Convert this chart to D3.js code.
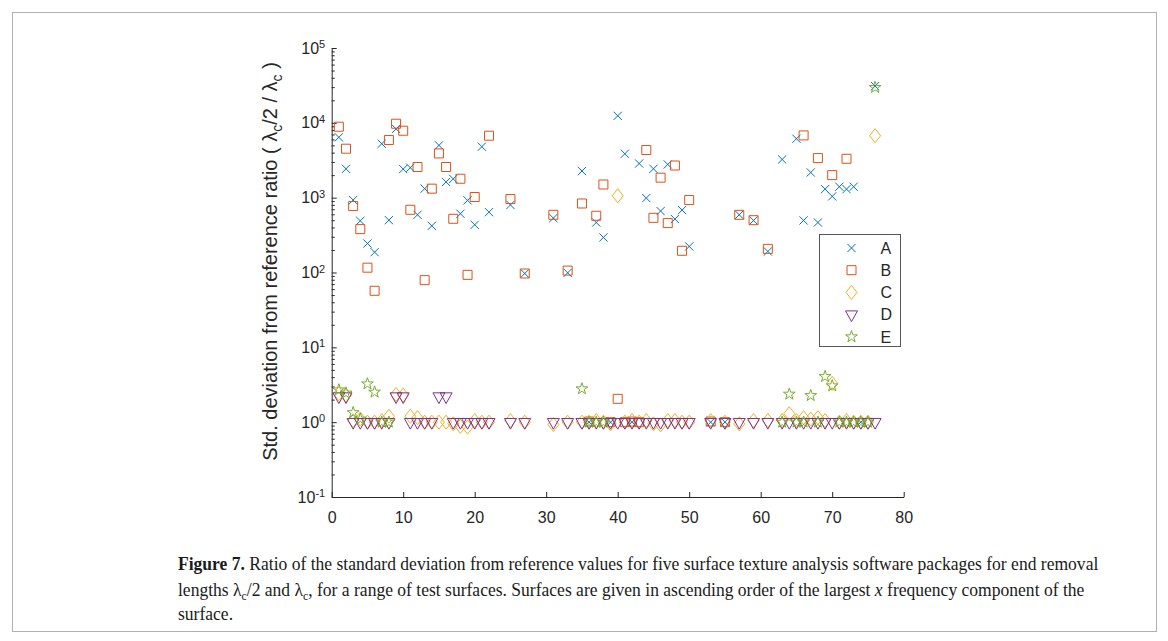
<!DOCTYPE html>
<html>
<head>
<meta charset="utf-8">
<script src="https://cdn.jsdelivr.net/npm/d3@7"></script>
<style>
  body { margin: 0; background: #fff; }
  svg { display: block; }
</style>
</head>
<body>
<svg id="fig" width="1168" height="641"></svg>
<script>
// Surface index (ascending order of largest x frequency component)
const surfaces = d3.range(1, 77);

// Ratio of std. deviation (lambda_c/2 vs lambda_c) per package; null = no result
const seriesA = [
  6400, 2430, 930, 490, 244, 187, 5250, 500, 8300, 2410,
  2510, 590, 1320, 420, 5000, 1620, 1780, 610, 920, 434,
  4800, 640, null, null, 800, null, 97, null, null, null,
  533, null, 99, null, 2270, 1.0, 466, 294, 1.0, 12400,
  3860, 1.0, 2860, 988, 2430, 662, 2780, 518, 682, 223,
  null, null, 1.0, null, 1.0, null, 590, null, 496, null,
  191, null, 3240, null, 6130, 496, 2170, 466, 1300, 1040,
  1400, 1300, 1400, 1.0, null, 31000
];
const seriesB = [
  8870, 4510, 772, 380, 116, 57, null, 5890, 9730, 7840,
  689, 2570, 79, 1320, 3900, 2570, 522, 1790, 93, 1020,
  null, 6730, null, null, 958, null, 97, null, null, null,
  590, null, 106, null, 836, 1.02, 573, 1500, 1.0, 2.05,
  1.0, 1.02, 1.0, 4330, 538, 1850, 457, 2690, 195, 929,
  null, null, 1.02, null, 1.0, null, 590, null, 500, null,
  207, null, null, null, null, 6790, null, 3380, null, 2000,
  null, 3310, null, null, null, null
];
const seriesC = [
  2.4, 2.3, 1.05, 1.1, 1.0, 1.0, 1.05, 1.2, 2.35, 2.3,
  1.2, 1.15, 1.0, 1.0, 1.0, 1.0, 0.95, 0.88, 0.86, 1.05,
  1.0, 1.0, null, null, 1.05, null, 1.0, null, null, null,
  0.93, null, 1.0, null, 1.0, 1.0, 1.05, 1.0, 0.95, 1060,
  1.0, 1.05, 1.0, 1.05, 0.95, 0.92, 1.05, 1.05, 1.0, 1.0,
  null, null, 1.05, null, 1.0, null, 0.95, null, 1.05, null,
  1.05, null, 1.05, 1.3, 1.05, 1.15, 1.1, 1.15, 1.05, 3.3,
  1.0, 1.05, 1.0, 1.0, 1.0, 6720
];
const seriesD = [
  2.2, 2.2, 1.0, 1.0, 1.0, 1.0, 1.0, 1.0, 2.2, 2.2,
  1.0, 1.0, 1.0, 1.0, 2.2, 2.2, 1.0, 1.0, 1.0, 1.0,
  1.0, 1.0, null, null, 1.0, null, 1.0, null, null, null,
  1.0, null, 1.0, null, 1.0, 1.0, 1.0, 1.0, 1.0, 1.0,
  1.0, 1.0, 1.0, 1.0, 1.0, 1.0, 1.0, 1.0, 1.0, 1.0,
  null, null, 1.0, null, 1.0, null, 1.0, null, 1.0, null,
  1.0, null, 1.0, 1.0, 1.0, 1.0, 1.0, 1.0, 1.0, 1.0,
  1.0, 1.0, 1.0, 1.0, 1.0, 1.0
];
const seriesE = [
  2.7, 2.45, 1.34, 1.1, 3.25, 2.52, 1.0, 1.0, null, null,
  null, null, null, null, null, null, null, null, null, null,
  null, null, null, null, null, null, null, null, null, null,
  null, null, null, null, 2.79, 1.0, 1.0, 1.0, null, null,
  null, null, null, null, null, null, null, null, null, null,
  null, null, null, null, null, null, null, null, null, null,
  null, null, 1.0, 2.37, 1.0, 1.0, 2.27, 1.0, 4.07, 3.06,
  1.0, 1.0, 1.0, 1.0, 1.0, 29700
];

const seriesNames = ["A", "B", "C", "D", "E"];
const seriesColors = ["#0072BD", "#D95319", "#EDB120", "#7E2F8E", "#77AC30"];
const seriesMarkers = ["cross", "square", "diamond", "triangleDown", "pentagram"];
const xTicks = [0, 10, 20, 30, 40, 50, 60, 70, 80];
const yTickExponents = [-1, 0, 1, 2, 3, 4, 5];

const svg = d3.select("#fig");
const axisColor = "#262626";
const sansFont = "'Liberation Sans', Arial, Helvetica, sans-serif";
const serifFont = "'Liberation Serif', 'Times New Roman', serif";

// Figure frame
svg.append("rect")
  .attr("x", 12.5).attr("y", 12.5)
  .attr("width", 1144).attr("height", 619)
  .attr("fill", "none").attr("stroke", "#b0b0b0").attr("stroke-width", 1);

// Scales
const x = d3.scaleLinear().domain([0, 80]).range([331.7, 903.7]);
const y = d3.scaleLog().domain([0.1, 1e5]).range([497, 48]);

// Marker shapes centred on the data point
function markerPath(kind) {
  switch (kind) {
    case "cross": {
      const h = 4.1;
      return `M${-h},${-h}L${h},${h}M${-h},${h}L${h},${-h}`;
    }
    case "square": {
      const h = 4.5;
      return `M${-h},${-h}H${h}V${h}H${-h}Z`;
    }
    case "diamond":
      return "M0,-7L5.5,0L0,7L-5.5,0Z";
    case "triangleDown":
      return "M-6,-3.7L6,-3.7L0,7Z";
    case "pentagram": {
      const R = 6.2, r = 2.4, pts = [];
      for (let k = 0; k < 10; k++) {
        const a = -Math.PI / 2 + k * Math.PI / 5;
        const rad = k % 2 === 0 ? R : r;
        pts.push([rad * Math.cos(a), rad * Math.sin(a)]);
      }
      return "M" + pts.map(p => p[0].toFixed(2) + "," + p[1].toFixed(2)).join("L") + "Z";
    }
  }
}

// Axes
const xAxis = d3.axisBottom(x).tickValues(xTicks).tickSizeInner(-5).tickSizeOuter(0).tickPadding(14.5);
const gx = svg.append("g").attr("transform", `translate(0,${y(0.1)})`).call(xAxis);
gx.select(".domain").attr("stroke", axisColor);
gx.selectAll(".tick line").attr("stroke", axisColor);
gx.selectAll(".tick text").attr("fill", axisColor)
  .style("font-family", sansFont).style("font-size", "16px");

const yAxis = d3.axisLeft(y)
  .tickValues(yTickExponents.map(e => Math.pow(10, e)))
  .tickSizeInner(-5).tickSizeOuter(0).tickPadding(6.5)
  .tickFormat(() => "");
const gy = svg.append("g").attr("transform", `translate(${x(0)},0)`).call(yAxis);
gy.select(".domain").attr("stroke", axisColor);
gy.selectAll(".tick line").attr("stroke", axisColor);
gy.selectAll(".tick text")
  .attr("fill", axisColor)
  .style("font-family", sansFont).style("font-size", "16px")
  .each(function(d) {
    const t = d3.select(this);
    const e = Math.round(Math.log10(d));
    t.append("tspan").text("10");
    t.append("tspan").attr("dy", "-0.5em").style("font-size", "11px").text(String(e));
  });

// Minor log ticks
const minorVals = [];
for (let e = -1; e < 5; e++) for (let m = 2; m <= 9; m++) minorVals.push(m * Math.pow(10, e));
const gyMinor = svg.append("g").attr("transform", `translate(${x(0)},0)`)
  .call(d3.axisLeft(y).tickValues(minorVals).tickSize(-3).tickFormat(() => ""));
gyMinor.select(".domain").remove();
gyMinor.selectAll(".tick line").attr("stroke", axisColor);

// Y-axis label
const yLab = svg.append("text")
  .attr("transform", "translate(277,261.5) rotate(-90)")
  .attr("text-anchor", "middle")
  .attr("fill", axisColor)
  .style("font-family", sansFont).style("font-size", "20px");
yLab.append("tspan").text("Std. deviation from reference ratio ( \u03BB");
yLab.append("tspan").attr("dy", "5").style("font-size", "14px").text("c");
yLab.append("tspan").attr("dy", "-5").text("/2 / \u03BB");
yLab.append("tspan").attr("dy", "5").style("font-size", "14px").text("c");
yLab.append("tspan").attr("dy", "-5").text(" )");

// Data markers, drawn in series order
const allSeries = [seriesA, seriesB, seriesC, seriesD, seriesE];
const plot = svg.append("g");
allSeries.forEach((vals, si) => {
  const pts = surfaces.map((s, i) => ({ s, v: vals[i] })).filter(d => d.v != null);
  plot.append("g")
    .selectAll("path")
    .data(pts)
    .join("path")
    .attr("transform", d => `translate(${x(d.s)},${y(d.v)})`)
    .attr("d", markerPath(seriesMarkers[si]))
    .attr("fill", "none")
    .attr("stroke", seriesColors[si])
    .attr("stroke-width", 1);
});

// Legend
const legend = svg.append("g");
legend.append("rect")
  .attr("x", 819.5).attr("y", 234.5).attr("width", 81).attr("height", 112)
  .attr("fill", "#fff").attr("stroke", "#555").attr("stroke-width", 1);
seriesNames.forEach((name, i) => {
  const cy = 248 + i * 22.2;
  legend.append("path")
    .attr("transform", `translate(851.5,${cy})`)
    .attr("d", markerPath(seriesMarkers[i]))
    .attr("fill", "none").attr("stroke", seriesColors[i]).attr("stroke-width", 1);
  legend.append("text")
    .attr("x", 880.5).attr("y", cy + 5.8)
    .attr("fill", axisColor)
    .style("font-family", sansFont).style("font-size", "16px")
    .text(name);
});

// Caption
const capSize = 18;
function captionLine(yBase, target, build) {
  const t = svg.append("text")
    .attr("x", 0).attr("y", 0)
    .attr("fill", "#1a1a1a")
    .style("font-family", serifFont).style("font-size", capSize + "px");
  build(t);
  const w = t.node().getComputedTextLength();
  const sx = target / w;
  t.attr("transform", `translate(178,${yBase}) scale(${sx},1)`);
  return sx;
}
const s1 = captionLine(570, 921, t => {
  t.append("tspan").style("font-weight", "bold").text("Figure 7.");
  t.append("tspan").text(" Ratio of the standard deviation from reference values for five surface texture analysis software packages for end removal");
});
captionLine(595.5, 907, t => {
  t.append("tspan").text("lengths \u03BB");
  t.append("tspan").attr("dy", "4").style("font-size", "12px").text("c");
  t.append("tspan").attr("dy", "-4").text("/2 and \u03BB");
  t.append("tspan").attr("dy", "4").style("font-size", "12px").text("c");
  t.append("tspan").attr("dy", "-4").text(", for a range of test surfaces. Surfaces are given in ascending order of the largest ");
  t.append("tspan").style("font-style", "italic").text("x");
  t.append("tspan").text(" frequency component of the");
});
svg.append("text")
  .attr("fill", "#1a1a1a")
  .style("font-family", serifFont).style("font-size", capSize + "px")
  .attr("transform", `translate(178,620) scale(${s1},1)`)
  .text("surface.");
</script>
</body>
</html>
